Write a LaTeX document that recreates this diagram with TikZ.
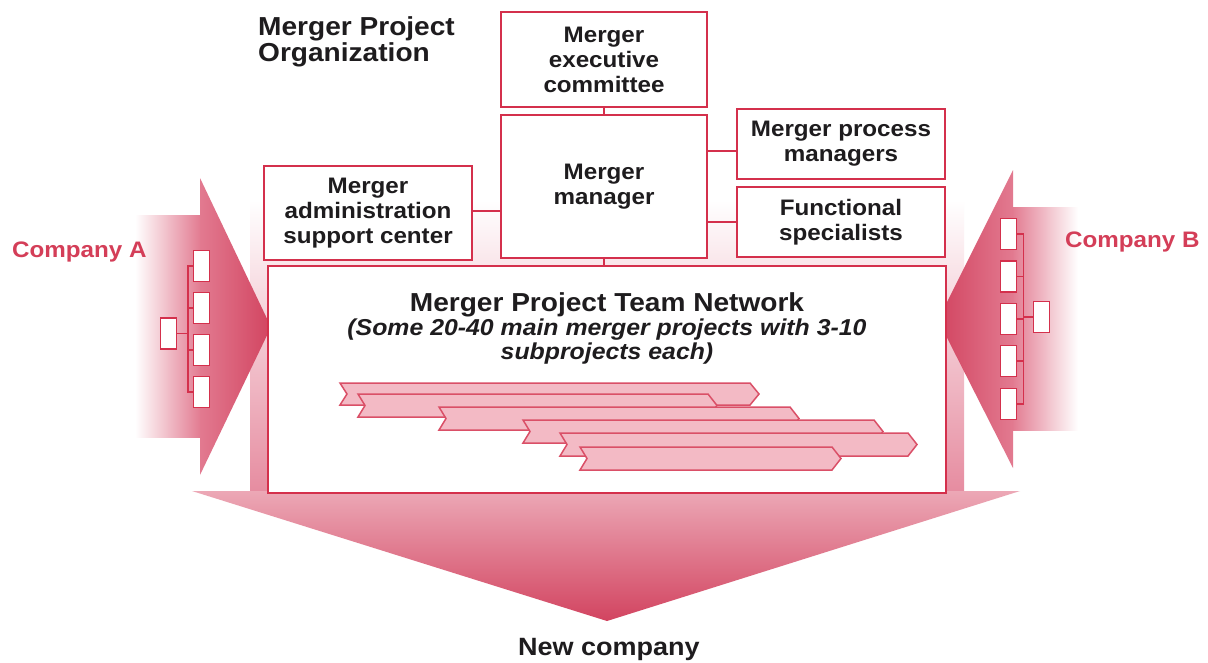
\documentclass[tikz,border=0pt]{standalone}
\usepackage{fontspec}
\setmainfont{Liberation Sans}[FakeStretch=1.08]
\definecolor{mred}{RGB}{212,48,76}
\definecolor{ctext}{RGB}{212,62,88}
\definecolor{txt}{RGB}{30,28,30}
\definecolor{pinkL}{RGB}{236,168,182}
\definecolor{pinkM}{RGB}{226,122,144}
\definecolor{pinkS}{RGB}{230,140,160}
\definecolor{pinkD}{RGB}{210,68,96}
\definecolor{barfill}{RGB}{243,186,197}
\newcommand\ganttbar[4]{\draw[barst] (#1,#3) -- ({#2-9},#3) -- (#2,{(#3+#4)/2}) -- ({#2-9},#4) -- (#1,#4) -- ({#1+7},{(#3+#4)/2}) -- cycle;}
\tikzset{
  orgbox/.style={draw=mred, line width=2.8pt, fill=white, align=center, text=txt, inner sep=0pt,
    font=\bfseries\fontsize{22.4}{25}\selectfont},
  mainbox/.style={draw=mred, line width=2.8pt, fill=white, inner sep=0pt},
  link/.style={draw=mred, line width=2.4pt},
  minibox/.style={draw=mred, line width=1.9pt, fill=white, inner sep=0pt, minimum width=16pt, minimum height=31pt},
  minilink/.style={draw=mred, line width=1.6pt},
  barst/.style={draw=mred!85, fill=barfill, line width=1.5pt, line join=miter},
  ttl/.style={text=txt, inner sep=0pt, font=\bfseries\fontsize{26}{28}\selectfont},
  sub/.style={text=txt, inner sep=0pt, font=\bfseries\itshape\fontsize{23}{25}\selectfont},
  comp/.style={text=ctext, inner sep=0pt, font=\bfseries\fontsize{22.4}{25}\selectfont},
}
\begin{document}
\begin{tikzpicture}[x=1pt,y=-1pt]
\useasboundingbox[fill=white] (0,0) rectangle (1208,662);
% background stem of the down arrow
\shade[top color=white, bottom color=pinkS] (250,200) rectangle (964,492);
% left arrow (Company A)
\shade[left color=white, right color=pinkM] (135,215) rectangle (201,437);
\shade[left color=pinkM, right color=pinkD] (200,178) -- (271,327) -- (200,475) -- cycle;
% right arrow (Company B)
\shade[left color=pinkM, right color=white] (1012,207) rectangle (1078,430);
\shade[left color=pinkD, right color=pinkM] (938,320) -- (1013,170) -- (1013,468) -- cycle;
% down arrow
\shade[top color=pinkL, bottom color=pinkD] (192,491) -- (1020,491) -- (607,621) -- cycle;

% organization boxes
\node[orgbox, minimum width=206pt, minimum height=95pt] (exec) at (604,59.5) {Merger\\executive\\committee};
\node[orgbox, minimum width=206pt, minimum height=143pt] (mgr) at (604,186.5) {Merger\\manager};
\node[orgbox, minimum width=208pt, minimum height=94pt] (admin) at (368,213) {Merger\\administration\\support center};
\node[orgbox, minimum width=208pt, minimum height=70pt] (proc) at (841,144) {Merger process\\managers};
\node[orgbox, minimum width=208pt, minimum height=70pt] (func) at (841,222) {Functional\\specialists};
\node[mainbox, minimum width=678pt, minimum height=227pt] (main) at (607,379.5) {};

\draw[link] (exec.south) -- (mgr.north);
\draw[link] ([yshift=2pt]admin.east) -- ([yshift=2pt]admin.east -| mgr.west);
\draw[link] ([yshift=-7pt]proc.west) -- ([yshift=-7pt]proc.west -| mgr.east);
\draw[link] (func.west) -- (func.west -| mgr.east);
\draw[link] (mgr.south) -- (mgr.south |- main.north);

% title
\node[ttl, anchor=base west] (t1) at (258,35) {Merger Project};
\node[ttl, anchor=base west] (t2) at (258,61) {Organization};

% network texts
\node[ttl, anchor=base] (nw) at (607,311) {Merger Project Team Network};
\node[sub, anchor=base] (nw1) at (607,335) {(Some 20-40 main merger projects with 3-10};
\node[sub, anchor=base] (nw2) at (607,359) {subprojects each)};

% gantt bars
\ganttbar{340}{759}{383}{405}
\ganttbar{358}{717}{394}{417}
\ganttbar{439}{799}{407}{430}
\ganttbar{523}{883}{420}{443}
\ganttbar{560}{917}{433}{456}
\ganttbar{580}{841}{447}{470}

% company A org chart
\node[minibox] (a0) at (168.5,333.5) {};
\node[minibox] (a1) at (201.5,266) {};
\node[minibox] (a2) at (201.5,308) {};
\node[minibox] (a3) at (201.5,350) {};
\node[minibox] (a4) at (201.5,392) {};
\foreach \c in {a1,a2,a3,a4} {\draw[minilink] (a0.east) -- ++(10.5,0) |- (\c.west);}

% company B org chart
\node[minibox] (b0) at (1041.5,317) {};
\node[minibox] (b1) at (1008.5,234) {};
\node[minibox] (b2) at (1008.5,276.5) {};
\node[minibox] (b3) at (1008.5,319) {};
\node[minibox] (b4) at (1008.5,361) {};
\node[minibox] (b5) at (1008.5,404) {};
\foreach \c in {b1,b2,b3,b4,b5} {\draw[minilink] (b0.west) -- ++(-9,0) |- (\c.east);}

% labels
\node[comp, anchor=base west] (ca) at (12,257) {Company A};
\node[comp, anchor=base west] (cb) at (1065,247) {Company B};
\node[ttl, anchor=base, font=\bfseries\fontsize{25}{28}\selectfont] (nc) at (609,655) {New company};
\end{tikzpicture}
\end{document}
